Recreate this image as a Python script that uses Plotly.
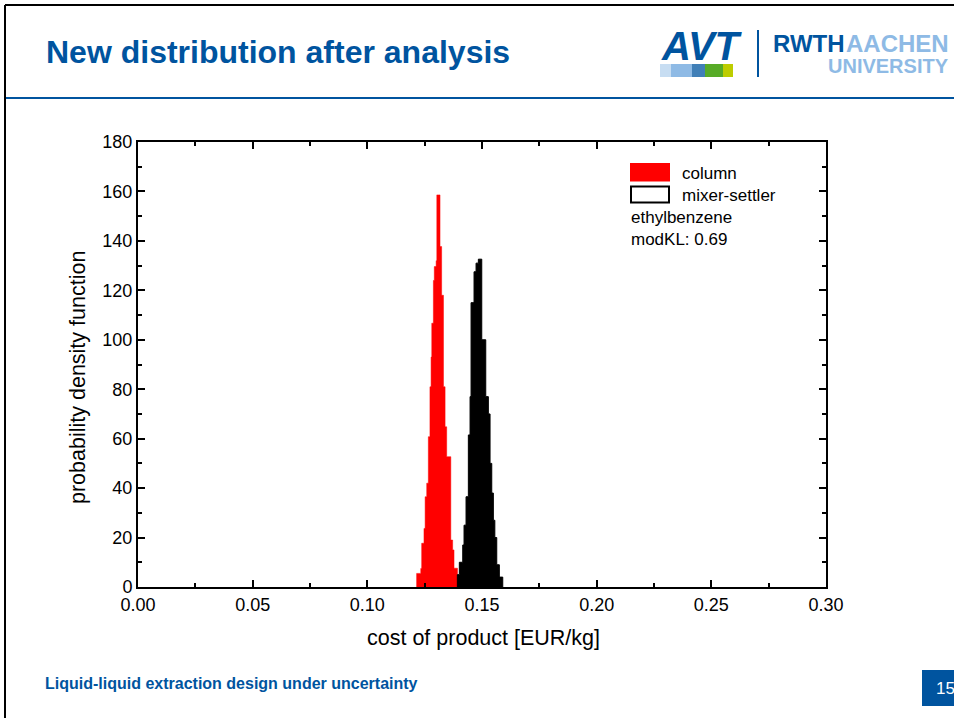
import plotly.graph_objects as go

# ---- data ----
column_edges = [0.1215, 0.1233, 0.1237, 0.1247, 0.1252, 0.1259, 0.1266, 0.1273, 0.1278,
                0.1281, 0.1288, 0.1292, 0.1300, 0.1303, 0.1317, 0.1324, 0.1332, 0.1339,
                0.1346, 0.1364, 0.1372, 0.1378, 0.1393, 0.1401]
column_density = [5.5, 7.5, 17.7, 23.7, 36.5, 42, 60.8, 81, 93, 106.7, 124, 129.6, 132,
                  158.6, 137.7, 118, 81, 64.8, 52.7, 19, 15, 7.6, 4]

mixer_edges = [0.13925, 0.14012, 0.14160, 0.14217, 0.14304, 0.14405, 0.14479, 0.14523,
               0.14653, 0.14741, 0.14841, 0.14989, 0.15164, 0.15277, 0.15351, 0.15425,
               0.15495, 0.15560, 0.15643, 0.15756, 0.15905]
mixer_density = [5, 10, 17, 25, 36.5, 61.5, 77, 115, 127.5, 131, 132.6, 100, 77, 70, 50,
                 38, 27, 20, 9, 4]

x_ticks = [0.00, 0.05, 0.10, 0.15, 0.20, 0.25, 0.30]
x_ticklabels = ["0.00", "0.05", "0.10", "0.15", "0.20", "0.25", "0.30"]
y_ticks = [0, 20, 40, 60, 80, 100, 120, 140, 160, 180]

series_names = ["column", "mixer-settler"]
note_lines = ["ethylbenzene", "modKL: 0.69"]

# ---- geometry helpers ----
W, H = 954, 718
L, R, T, B = 138, 826, 142, 587
PW, PH = R - L, B - T


def px(x):
    return (x - L) / PW


def py(y):
    return (B - y) / PH


def step_xy(edges, heights):
    # histogram outline: start at 0, step through each bin, close back at 0
    xs = [edges[0]] + list(edges) + [edges[-1]]
    ys = [0] + list(heights) + [heights[-1], 0]
    return xs, ys


FONT = "Liberation Sans, Arial, sans-serif"
BLUE = "#00549F"
LIGHT = "#8EBAE5"

fig = go.Figure()
cx, cy = step_xy(column_edges, column_density)
fig.add_trace(go.Scatter(x=cx, y=cy, mode="lines", line=dict(shape="hv", color="#ff0000", width=0.5),
                         fill="toself", fillcolor="#ff0000",
                         name=series_names[0], showlegend=False, hoverinfo="skip"))
mx, my = step_xy(mixer_edges, mixer_density)
fig.add_trace(go.Scatter(x=mx, y=my, mode="lines", line=dict(shape="hv", color="#000000", width=1),
                         fill="toself", fillcolor="#000000",
                         name=series_names[1], showlegend=False, hoverinfo="skip"))

axis_common = dict(showline=True, linecolor="black", linewidth=2, mirror="ticks",
                   ticks="inside", ticklen=7, tickwidth=1.5, tickcolor="black",
                   showgrid=False, zeroline=False,
                   tickfont=dict(family=FONT, size=18, color="black"))

shapes = []
annotations = []

# slide frame
shapes.append(dict(type="line", xref="paper", yref="paper", x0=px(5), x1=px(960),
                   y0=py(5), y1=py(5), line=dict(color="black", width=2)))
shapes.append(dict(type="line", xref="paper", yref="paper", x0=px(5), x1=px(5),
                   y0=py(5), y1=py(720), line=dict(color="black", width=2)))
# blue header rule
shapes.append(dict(type="line", xref="paper", yref="paper", x0=px(6), x1=px(960),
                   y0=py(98), y1=py(98), line=dict(color=BLUE, width=2)))
# logo squares
for (x0, x1, c) in [(660, 671, "#C7DDF2"), (671, 692, "#8EBAE5"), (692, 705, "#407FB7"),
                    (705, 723, "#57AB27"), (723, 733, "#BDCD00")]:
    shapes.append(dict(type="rect", xref="paper", yref="paper", x0=px(x0), x1=px(x1),
                       y0=py(77), y1=py(64), line=dict(width=0), fillcolor=c))
# logo separator
shapes.append(dict(type="line", xref="paper", yref="paper", x0=px(758), x1=px(758),
                   y0=py(30), y1=py(77), line=dict(color=BLUE, width=2)))
# page number box
shapes.append(dict(type="rect", xref="paper", yref="paper", x0=px(922), x1=px(960),
                   y0=py(706), y1=py(670), line=dict(width=0), fillcolor=BLUE))
# legend boxes
shapes.append(dict(type="rect", xref="paper", yref="paper", x0=px(630), x1=px(670),
                   y0=py(181.5), y1=py(163), line=dict(width=0), fillcolor="#ff0000"))
shapes.append(dict(type="rect", xref="paper", yref="paper", x0=px(631), x1=px(669),
                   y0=py(202.5), y1=py(186.5), line=dict(color="black", width=2),
                   fillcolor="white"))


def ann(text, x, y, size, color="black", xa="left", ya="middle", bold=False, angle=0,
        italic=False):
    t = f"<b>{text}</b>" if bold else text
    if italic:
        t = f"<i>{t}</i>"
    annotations.append(dict(text=t, x=px(x), y=py(y), xref="paper", yref="paper",
                            xanchor=xa, yanchor=ya, showarrow=False, textangle=angle,
                            font=dict(family=FONT, size=size, color=color)))


ann("New distribution after analysis", 44, 52, 32, BLUE, bold=True)
ann("Liquid-liquid extraction design under uncertainty", 43, 683, 16, BLUE, bold=True)
ann("15", 934, 688, 17, "white")
ann("AVT", 702, 46, 40, BLUE, xa="center", bold=True, italic=True)
ann("RWTH", 771, 43, 24, BLUE, bold=True)
ann("AACHEN", 951, 43, 24, LIGHT, xa="right", bold=True)
ann("UNIVERSITY", 951, 66, 20, LIGHT, xa="right", bold=True)

ann(series_names[0], 680, 173, 17)
ann(series_names[1], 680, 195, 17)
ann(note_lines[0], 629, 218, 17)
ann(note_lines[1], 629, 239, 17)

ann("cost of product [EUR/kg]", 483, 638, 21.5, xa="center")
ann("probability density function", 78, 378, 21.5, xa="center", angle=-90)

fig.update_layout(
    width=W, height=H,
    margin=dict(l=L, r=W - R, t=T, b=H - B),
    paper_bgcolor="white", plot_bgcolor="white",
    showlegend=False,
    xaxis=dict(range=[0, 0.30], tickmode="array", tickvals=x_ticks, ticktext=x_ticklabels,
               minor=dict(ticks="inside", ticklen=4, tickwidth=1.5, tickcolor="black",
                          tick0=0, dtick=0.025, showgrid=False),
               **axis_common),
    yaxis=dict(range=[0, 180], tickmode="array", tickvals=y_ticks,
               ticktext=[str(v) for v in y_ticks],
               minor=dict(ticks="inside", ticklen=4, tickwidth=1.5, tickcolor="black",
                          tick0=0, dtick=10, showgrid=False),
               **axis_common),
    shapes=shapes,
    annotations=annotations,
)

fig.write_html("out.html", config={"displayModeBar": False},
               post_script="document.body.style.margin='0';document.body.style.overflow='hidden';")
